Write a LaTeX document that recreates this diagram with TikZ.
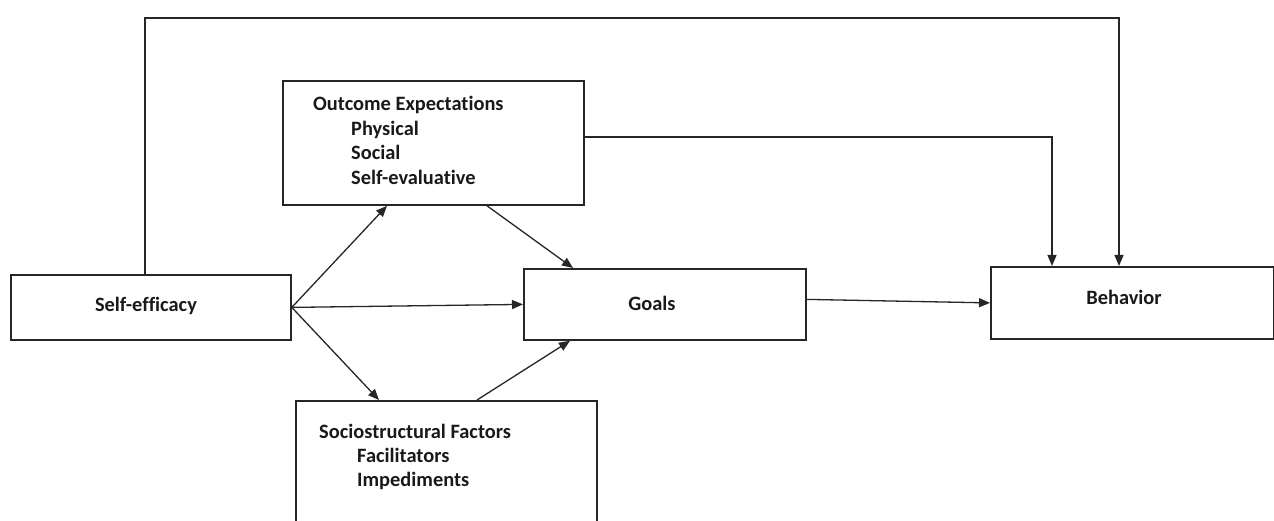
\documentclass[tikz,border=0pt]{standalone}
\usepackage{fontspec}
\setmainfont{Carlito}[Ligatures={NoCommon}]
\usetikzlibrary{arrows.meta,calc}
\begin{document}
\begin{tikzpicture}[x=1pt,y=-1pt,
  box/.style={draw=black!85, line width=1.8pt, inner sep=0pt, anchor=north west},
  conn/.style={draw=black!85, line width=1.3pt, -{Triangle[length=11pt,width=9pt]}},
  lbl/.style={font=\fontsize{20.4}{24.7}\selectfont\bfseries, inner sep=0pt, text=black!90}]
\useasboundingbox (0,0) rectangle (1274,521);
\clip (0,0) rectangle (1274,521);
% boxes
\node[box, minimum width=280pt, minimum height=65pt] (se) at (10,274) {};
\node[box, minimum width=301pt, minimum height=124pt] (oe) at (282,80) {};
\node[box, minimum width=282pt, minimum height=71pt] (go) at (523,268) {};
\node[box, minimum width=283pt, minimum height=72pt] (be) at (990,266) {};
\node[box, minimum width=301pt, minimum height=160pt] (sf) at (295,400) {};
% texts
\node[lbl] (tse) at (146,306) {Self-efficacy};
\node[lbl] (tgo) at (652,303) {Goals};
\node[lbl] (tbe) at (1124,297) {Behavior};
\node[lbl, anchor=base west] (toe1) at (313,111) {Outcome Expectations};
\node[lbl, anchor=base west] (toe2) at (351,135.5) {Physical};
\node[lbl, anchor=base west] (toe3) at (351,160) {Social};
\node[lbl, anchor=base west] (toe4) at (351,184.5) {Self-evaluative};
\node[lbl, anchor=base west] (tsf1) at (319,438) {Sociostructural Factors};
\node[lbl, anchor=base west] (tsf2) at (357,462) {Facilitators};
\node[lbl, anchor=base west] (tsf3) at (357,486) {Impediments};
% routing coordinates
\coordinate (t1) at (145,18);
\coordinate (t2) at (1119,18);
\coordinate (o1) at (1052,137);
% connectors
\draw[conn] (t1 |- se.north) -- (t1) -- (t2) -- (t2 |- be.north);
\draw[conn] (o1 -| oe.east) -- (o1) -- (o1 |- be.north);
\draw[conn] (se.east) -- ($(oe.south west)+(105,0)$);
\draw[conn] (se.east) -- (go.west);
\draw[conn] (se.east) -- ($(sf.north west)+(84,0)$);
\draw[conn] ($(oe.south west)+(205,0)$) -- ($(go.north west)+(50,0)$);
\draw[conn] ($(sf.north west)+(182,0)$) -- ($(go.south west)+(47,0)$);
\draw[conn] ($(go.east)+(0,-5)$) -- (be.west);
\end{tikzpicture}
\end{document}
